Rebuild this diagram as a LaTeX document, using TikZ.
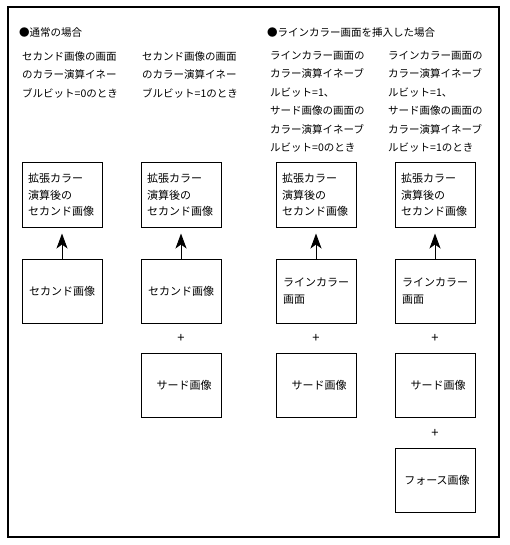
\documentclass[tikz,border=0pt]{standalone}
\usepackage{fontspec}
\setmainfont{Noto Sans CJK JP}
\usetikzlibrary{arrows.meta}

\begin{document}
\begin{tikzpicture}[x=1pt, y=-1pt,
            bx/.style={draw=black, line width=1pt, fill=white, minimum width=80pt, minimum height=64pt, inner sep=0pt, font=\fontsize{11}{16.5}\selectfont},
            captxt/.style={anchor=north west, inner sep=0pt, align=left, font=\fontsize{10.5}{18.5}\selectfont},
            arr/.style={draw=black, line width=0.9pt, -{Stealth[length=15pt, width=11pt, inset=4pt]}, shorten >=6pt},
            pls/.style={inner sep=0pt, font=\fontsize{13}{13}\selectfont}]
            \useasboundingbox (0,0) rectangle (509,545);
            \draw[line width=1.5pt] (8,7) rectangle (499,537);
            % headings and captions
            \node[captxt, anchor=west] (h1) at (19,33) {●通常の場合};
            \node[captxt, anchor=west] (h2) at (267,33) {●ラインカラー画面を挿入した場合};
            \node[captxt] (c1) at (22,51)  {セカンド画像の画面\\のカラー演算イネー\\ブルビット=0のとき};
            \node[captxt] (c2) at (142,51) {セカンド画像の画面\\のカラー演算イネー\\ブルビット=1のとき};
            \node[captxt] (c3) at (270,51) {ラインカラー画面の\\カラー演算イネーブ\\ルビット=1、\\サード画像の画面の\\カラー演算イネーブ\\ルビット=0のとき};
            \node[captxt] (c4) at (388,51) {ラインカラー画面の\\カラー演算イネーブ\\ルビット=1、\\サード画像の画面の\\カラー演算イネーブ\\ルビット=1のとき};
            % result boxes
            \node[bx, text width=68pt, align=left] (ext1) at (62,195)  {拡張カラー\\演算後の\\セカンド画像};
            \node[bx, text width=68pt, align=left] (ext2) at (181,195) {拡張カラー\\演算後の\\セカンド画像};
            \node[bx, text width=68pt, align=left] (ext3) at (316,195) {拡張カラー\\演算後の\\セカンド画像};
            \node[bx, text width=68pt, align=left] (ext4) at (435,195) {拡張カラー\\演算後の\\セカンド画像};
            % source boxes
            \node[bx] (sec1) at (62,291)  {セカンド画像};
            \node[bx] (sec2) at (181,291) {セカンド画像};
            \node[bx, text width=66pt, align=left] (lc3) at (316,291) {ラインカラー\\画面};
            \node[bx, text width=66pt, align=left] (lc4) at (435,291) {ラインカラー\\画面};
            \node[bx] (thd2) at (181,385) {\hspace*{6pt}サード画像};
            \node[bx] (thd3) at (316,385) {\hspace*{6pt}サード画像};
            \node[bx] (thd4) at (435,385) {\hspace*{6pt}サード画像};
            \node[bx] (fth4) at (435,480) {\hspace*{4pt}フォース画像};
            \node[pls] (p2) at (181,338) {+};
            \node[pls] (p3) at (316,338) {+};
            \node[pls] (p4) at (435,338) {+};
            \node[pls] (q4) at (435,433) {+};
            \draw[arr] (sec1) -- (ext1);
            \draw[arr] (sec2) -- (ext2);
            \draw[arr] (lc3) -- (ext3);
            \draw[arr] (lc4) -- (ext4);
        \end{tikzpicture}
\end{document}
